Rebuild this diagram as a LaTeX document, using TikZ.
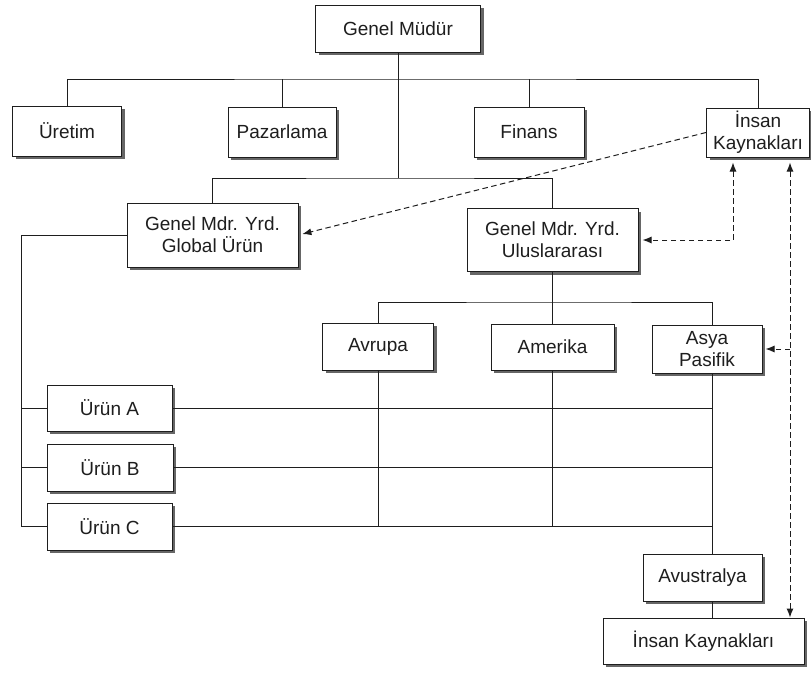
\documentclass[tikz,border=0pt]{standalone}
\usepackage{fontspec}
\setmainfont{Liberation Sans}
\usetikzlibrary{arrows.meta,shadows}

\definecolor{ink}{HTML}{1E1E1E}

\begin{document}
\begin{tikzpicture}[x=1pt,y=-1pt,
  box/.style={draw=ink, line width=1pt, fill=white, inner sep=0pt,
    align=center, text=ink, font=\fontsize{19}{22}\selectfont,
    drop shadow={shadow xshift=3pt, shadow yshift=-3pt, fill=black!60, opacity=1}},
  link/.style={draw=ink, line width=0.9pt},
  hr/.style={draw=ink, line width=1pt, dash pattern=on 5.5pt off 3.5pt,
    -{Latex[length=9pt,width=7pt]}},
  hrboth/.style={hr, {Latex[length=9pt,width=7pt]}-{Latex[length=9pt,width=7pt]}}
]
\fill[white] (0,0) rectangle (811,673);
\useasboundingbox (0,0) rectangle (811,673);

% top management
\node[box, minimum width=165pt, minimum height=47pt] (gm) at (398,28.5) {Genel Müdür};

% functional departments
\node[box, minimum width=109pt, minimum height=50pt] (uretim) at (67,131) {Üretim};
\node[box, minimum width=108pt, minimum height=50pt] (pazar) at (282,132) {Pazarlama};
\node[box, minimum width=110pt, minimum height=50pt] (finans) at (529,132) {Finans};
\node[box, minimum width=103pt, minimum height=49pt] (ik1) at (758,132.5) {İnsan\\Kaynakları};

% deputy general managers
\node[box, minimum width=171pt, minimum height=64pt] (global) at (212.5,235) {Genel Mdr. Yrd.\\Global Ürün};
\node[box, minimum width=171pt, minimum height=63pt] (ulus) at (552.5,240) {Genel Mdr. Yrd.\\Uluslararası};

% regions
\node[box, minimum width=111pt, minimum height=47pt] (avrupa) at (378,346.5) {Avrupa};
\node[box, minimum width=123pt, minimum height=46pt] (amerika) at (552.5,347) {Amerika};
\node[box, minimum width=110pt, minimum height=48pt] (asya) at (707,349) {Asya\\Pasifik};

% products
\node[box, minimum width=125pt, minimum height=46pt] (urunA) at (109.5,408) {Ürün A};
\node[box, minimum width=126pt, minimum height=47pt] (urunB) at (110,467.5) {Ürün B};
\node[box, minimum width=125pt, minimum height=47pt] (urunC) at (109.5,526.5) {Ürün C};

% Australia and its HR unit
\node[box, minimum width=119pt, minimum height=47pt] (avust) at (702.5,577.5) {Avustralya};
\node[box, minimum width=201pt, minimum height=46pt] (ik2) at (703.5,641) {İnsan Kaynakları};

% bus lines and spines
\coordinate (b1) at (398,79);
\coordinate (b2) at (398,178);
\coordinate (b3) at (552.5,302);
\coordinate (ls) at (21,0);
\coordinate (sp) at (712,0);
\coordinate (h1) at (733,0);
\coordinate (h2) at (790,0);

% solid reporting lines
\draw[link] (gm.south) -- (b2);
\draw[link] (uretim.north) |- (b1) -| (ik1.north);
\draw[link] (pazar.north) -- (pazar.north |- b1);
\draw[link] (finans.north) -- (finans.north |- b1);
\draw[link] (global.north) |- (b2) -| (ulus.north);
\draw[link] (ulus.south) -- (b3);
\draw[link] (avrupa.north) |- (b3) -| (asya.north -| sp);
\draw[link] (amerika.north) -- (amerika.north |- b3);

\draw[link] (global.west) -| (ls |- urunC.west) -- (urunC.west);
\draw[link] (urunA.west) -- (urunA.west -| ls);
\draw[link] (urunB.west) -- (urunB.west -| ls);

\draw[link] (urunA.east) -- (urunA.east -| sp);
\draw[link] (urunB.east) -- (urunB.east -| sp);
\draw[link] (urunC.east) -- (urunC.east -| sp);
\draw[link] (avrupa.south) -- (avrupa.south |- urunC.east);
\draw[link] (amerika.south) -- (amerika.south |- urunC.east);
\draw[link] (asya.south -| sp) -- (avust.north -| sp);
\draw[link] (avust.south -| sp) -- (ik2.north -| sp);

% dashed HR coordination lines
\draw[hr, shorten >=4pt] (ik1.west) -- (global.east);
\draw[hrboth, shorten <=5pt, shorten >=4pt] (ik1.south -| h1) |- (ulus.east);
\draw[hrboth, shorten <=5pt] (ik1.south -| h2) -- (ik2.north -| h2);
\draw[hr, shorten >=3pt] (h2 |- asya.east) -- (asya.east);
\end{tikzpicture}
\end{document}
